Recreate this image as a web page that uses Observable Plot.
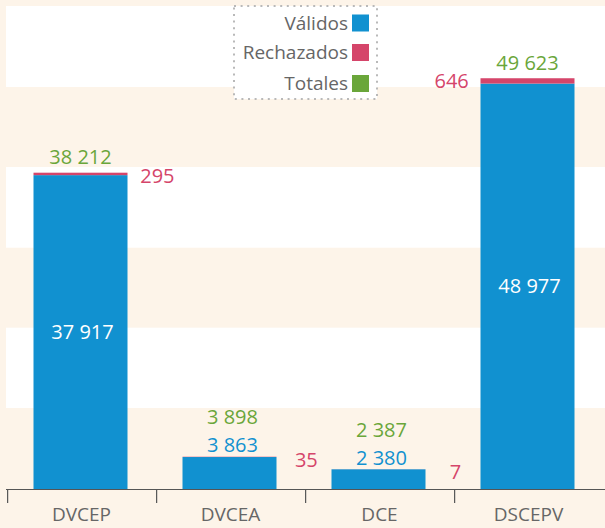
<!DOCTYPE html>
<html>
<head>
<meta charset="utf-8">
<script src="https://cdn.jsdelivr.net/npm/d3@7"></script>
<script src="https://cdn.jsdelivr.net/npm/@observablehq/plot@0.6"></script>
<style>
  html, body { margin: 0; padding: 0; background: #fdf4e9; }
  #wrap { position: relative; width: 605px; height: 528px; }
  #legend { position: absolute; left: 233px; top: 5px; }
  text { font-family: 'Open Sans', sans-serif; }
</style>
</head>
<body>
<div id="wrap"></div>
<script>
// ---- data ----
const categories = ["DVCEP", "DVCEA", "DCE", "DSCEPV"];
const validos    = [37917, 3863, 2380, 48977];
const rechazados = [295, 35, 7, 646];
const totales    = [38212, 3898, 2387, 49623];
const series     = ["Válidos", "Rechazados", "Totales"];
const colors     = ["#1191d0", "#d5456a", "#6aa63a"];
// white grid bands (value ranges)
const bandEdges  = [[9790, 19490], [29150, 38900], [48570, 58350]];
const yMax = 58350;

// ---- layout ----
const width = 605, height = 528;
const marginLeft = 6, marginRight = 0, marginTop = 6, marginBottom = 39;
const step = (width - marginLeft - marginRight) / categories.length;

const fmt = v => d3.format(",")(v).replace(/,/g, " ");
const idx = categories.map((_, i) => i);
const big = idx.filter(i => validos[i] >= 10000);
const small = idx.filter(i => validos[i] < 10000);
const last = categories.length - 1;

const rows = idx.flatMap(i => [
  {cat: categories[i], serie: series[0], value: validos[i]},
  {cat: categories[i], serie: series[1], value: rechazados[i]}
]);

const chart = Plot.plot({
  width, height, marginLeft, marginRight, marginTop, marginBottom,
  style: {background: "#fdf4e9", fontFamily: "'Open Sans', sans-serif", overflow: "visible"},
  x: {domain: categories, paddingInner: 0.372, paddingOuter: 0.186, axis: null, label: null},
  y: {domain: [0, yMax], axis: null, label: null},
  color: {domain: series, range: colors},
  marks: [
    Plot.rectY(bandEdges, {y1: d => d[0], y2: d => d[1], fill: "white"}),
    Plot.barY(rows, {x: "cat", y: "value", fill: "serie", dx: -1.5}),
    Plot.ruleY([0], {stroke: "#555", strokeWidth: 1.2}),
    Plot.axisX({tickSize: 14, dx: -step / 2, tickFormat: () => "", label: null, stroke: "#555", strokeWidth: 1.2}),
    Plot.axisX({tickSize: 0, tickPadding: 18, fontSize: 19, label: null, color: "#666", dx: -1}),
    // values inside big bars
    Plot.text(big, {x: i => categories[i], y: i => validos[i] / 2, text: i => fmt(validos[i]),
      fill: "white", fontSize: 20, lineAnchor: "middle"}),
    // totals above big bars
    Plot.text(big, {x: i => categories[i], y: i => totales[i], text: i => fmt(totales[i]),
      fill: colors[2], fontSize: 20, lineAnchor: "bottom", dy: -9, dx: -2}),
    // small bars: valid + total above
    Plot.text(small, {x: i => categories[i], y: i => totales[i], text: i => fmt(validos[i]),
      fill: colors[0], fontSize: 20, lineAnchor: "bottom", dy: -5, dx: 1}),
    Plot.text(small, {x: i => categories[i], y: i => totales[i], text: i => fmt(totales[i]),
      fill: colors[2], fontSize: 20, lineAnchor: "bottom", dy: -33, dx: 1}),
    // rejected: beside the bar
    Plot.text(idx.filter(i => i !== last), {x: i => categories[i], y: i => totales[i], text: i => fmt(rechazados[i]),
      fill: colors[1], fontSize: 20, lineAnchor: "middle", dx: step / 2, dy: 3}),
    Plot.text([last], {x: i => categories[i], y: i => totales[i], text: i => fmt(rechazados[i]),
      fill: colors[1], fontSize: 20, lineAnchor: "middle", dx: -step / 2 - 3, dy: 3})
  ]
});
document.getElementById("wrap").appendChild(chart);

// ---- legend (overlaid at top) ----
const lg = d3.select("#wrap").append("svg").attr("id", "legend")
  .attr("width", 146).attr("height", 96);
lg.append("rect").attr("x", 1).attr("y", 1).attr("width", 143).attr("height", 93)
  .attr("fill", "white").attr("stroke", "#b9b9b9").attr("stroke-width", 2)
  .attr("stroke-dasharray", "2 4.6");
const rowY = [18, 47.5, 78.5];
series.forEach((s, k) => {
  lg.append("text").attr("x", 115).attr("y", rowY[k]).attr("dy", "0.35em")
    .attr("text-anchor", "end").attr("fill", "#666").attr("font-size", 19).text(s);
  lg.append("rect").attr("x", 119).attr("y", rowY[k] - 8.5).attr("width", 17).attr("height", 17)
    .attr("fill", colors[k]);
});
</script>
</body>
</html>
